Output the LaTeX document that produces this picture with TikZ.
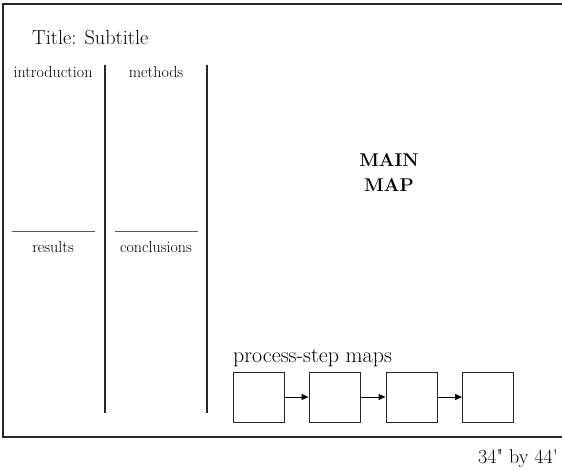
\documentclass[tikz,border=0pt]{standalone}
\usepackage{fontspec}
\usetikzlibrary{arrows.meta}
\begin{document}
\begin{tikzpicture}[x=1pt,y=-1pt,
  thick line/.style={line width=1.8pt,draw=black!85},
  thin rule/.style={line width=1pt,draw=black!65},
  label text/.style={font=\fontsize{16}{18}\selectfont,anchor=base},
  stepbox/.style={draw=black!85,line width=0.9pt,minimum width=51pt,minimum height=50pt,inner sep=0pt},
  steparrow/.style={line width=0.9pt,-{Triangle[length=7pt,width=6pt]}}
]
\useasboundingbox (0,0) rectangle (562,470);
% outer frame (right edge runs off the page)
\draw[line width=1.8pt,draw=black!85] (575,4) -- (3,4) -- (3,437) -- (575,437);
% title
\node[anchor=base west,font=\fontsize{20.3}{22}\selectfont,inner sep=0pt] (title) at (32,45) {Title: Subtitle};
% column rules
\coordinate (v1t) at (105,65); \coordinate (v1b) at (105,413);
\coordinate (v2t) at (207,65); \coordinate (v2b) at (207,413);
\draw[thick line] (v1t) -- (v1b);
\draw[thick line] (v2t) -- (v2b);
% section labels
\node[label text,inner sep=0pt] (intro) at (53,78) {introduction};
\node[label text,inner sep=0pt] (meth) at (156,78) {methods};
\coordinate (h1a) at (12,232); \coordinate (h1b) at (95,232);
\coordinate (h2a) at (115,232); \coordinate (h2b) at (198,232);
\draw[thin rule] (h1a) -- (h1b);
\draw[thin rule] (h2a) -- (h2b);
\node[label text,inner sep=0pt] (res) at (53,253) {results};
\node[label text,inner sep=0pt] (conc) at (156,253) {conclusions};
% main map
\node[font=\fontsize{18.5}{25}\selectfont\bfseries,align=center,anchor=base,inner sep=0pt] (main) at (389,192) {MAIN\\MAP};
% process steps
\node[anchor=base west,font=\fontsize{22}{24}\selectfont,inner sep=0pt] (proc) at (233,362) {process-step maps};
\node[stepbox] (s1) at (258.5,397) {};
\node[stepbox] (s2) at (334.5,397) {};
\node[stepbox] (s3) at (411.5,397) {};
\node[stepbox] (s4) at (488,397) {};
\draw[steparrow] (s1) -- (s2);
\draw[steparrow] (s2) -- (s3);
\draw[steparrow] (s3) -- (s4);
% size note
\node[anchor=base west,font=\fontsize{20}{22}\selectfont,inner sep=0pt] (size) at (478,463) {34\textquotedbl{} by 44\textquotesingle};
\end{tikzpicture}
\end{document}
